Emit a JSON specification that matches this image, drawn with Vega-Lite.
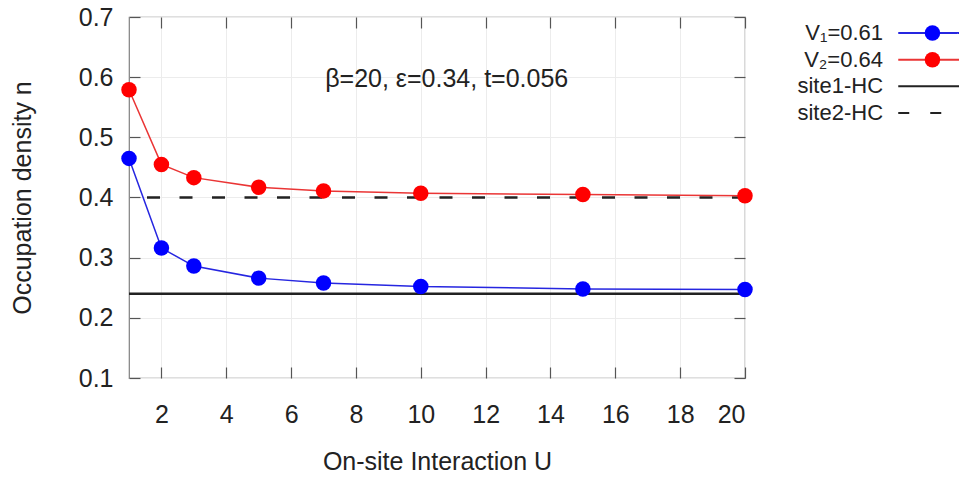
{
  "$schema": "https://vega.github.io/schema/vega-lite/v6.json",
  "padding": {"left": 9, "top": 4, "right": 0, "bottom": 0},
  "autosize": {"type": "pad"},
  "background": "white",
  "datasets": {
    "series": [
      {"series": "V1", "U": 1, "n": 0.465},
      {"series": "V1", "U": 2, "n": 0.316},
      {"series": "V1", "U": 3, "n": 0.286},
      {"series": "V1", "U": 5, "n": 0.266},
      {"series": "V1", "U": 7, "n": 0.258},
      {"series": "V1", "U": 10, "n": 0.252},
      {"series": "V1", "U": 15, "n": 0.248},
      {"series": "V1", "U": 20, "n": 0.247},
      {"series": "V2", "U": 1, "n": 0.579},
      {"series": "V2", "U": 2, "n": 0.455},
      {"series": "V2", "U": 3, "n": 0.433},
      {"series": "V2", "U": 5, "n": 0.417},
      {"series": "V2", "U": 7, "n": 0.411},
      {"series": "V2", "U": 10, "n": 0.407},
      {"series": "V2", "U": 15, "n": 0.405},
      {"series": "V2", "U": 20, "n": 0.403}
    ],
    "hc": [
      {"site": "site1-HC", "n": 0.24},
      {"site": "site2-HC", "n": 0.40}
    ],
    "legend": [
      {"label": "V₁=0.61", "kind": "V1", "row": 1},
      {"label": "V₂=0.64", "kind": "V2", "row": 2},
      {"label": "site1-HC", "kind": "site1", "row": 3},
      {"label": "site2-HC", "kind": "site2", "row": 4}
    ]
  },
  "spacing": 16,
  "resolve": {"scale": {"fill": "independent", "stroke": "independent", "strokeDash": "independent"}},
  "hconcat": [
    {
      "width": 616,
      "height": 361,
      "layer": [
        {
          "data": {"name": "hc"},
          "mark": {"type": "rule", "strokeWidth": 2.5, "color": "#222222"},
          "encoding": {
            "y": {"field": "n", "type": "quantitative", "scale": {"domain": [0.1, 0.7], "zero": false},
              "axis": {"orient": "right", "values": [0.1, 0.2, 0.3, 0.4, 0.5, 0.6, 0.7], "labels": false, "title": null, "grid": false}},
            "strokeDash": {"field": "site", "type": "nominal", "scale": {"domain": ["site1-HC", "site2-HC"], "range": [[1, 0], [13, 19.5]]}, "legend": null}
          }
        },
        {
          "data": {"name": "series"},
          "mark": {"type": "line", "strokeWidth": 1.5},
          "encoding": {
            "x": {"field": "U", "type": "quantitative", "scale": {"domain": [1, 20], "zero": false},
              "axis": {"orient": "bottom", "values": [2, 4, 6, 8, 10, 12, 14, 16, 18, 20], "title": "On-site Interaction U", "grid": true, "labelPadding": 35, "titlePadding": 22}},
            "y": {"field": "n", "type": "quantitative", "scale": {"domain": [0.1, 0.7], "zero": false},
              "axis": {"orient": "left", "values": [0.1, 0.2, 0.3, 0.4, 0.5, 0.6, 0.7], "format": ".1f", "title": "Occupation density n", "grid": true, "labelPadding": 27, "titlePadding": 43}},
            "stroke": {"field": "series", "type": "nominal", "scale": {"domain": ["V1", "V2"], "range": ["#2626e0", "#ea3535"]}, "legend": null}
          }
        },
        {
          "data": {"name": "series"},
          "mark": {"type": "point", "filled": true, "size": 240, "opacity": 1},
          "encoding": {
            "x": {"field": "U", "type": "quantitative", "scale": {"domain": [1, 20], "zero": false},
              "axis": {"orient": "top", "values": [2, 4, 6, 8, 10, 12, 14, 16, 18, 20], "labels": false, "title": null, "grid": false}},
            "y": {"field": "n", "type": "quantitative", "scale": {"domain": [0.1, 0.7], "zero": false}, "axis": null},
            "fill": {"field": "series", "type": "nominal", "scale": {"domain": ["V1", "V2"], "range": ["#0000ff", "#ff0000"]}, "legend": null}
          }
        },
        {
          "data": {"values": [{"note": "β=20, ε=0.34, t=0.056"}]},
          "mark": {"type": "text", "align": "center", "baseline": "middle", "fontSize": 25, "font": "Liberation Sans", "color": "#222222"},
          "encoding": {
            "x": {"datum": 10.8, "type": "quantitative", "scale": {"domain": [1, 20], "zero": false}, "axis": null},
            "y": {"datum": 0.597, "type": "quantitative", "scale": {"domain": [0.1, 0.7], "zero": false}, "axis": null},
            "text": {"field": "note"}
          }
        }
      ],
      "resolve": {"axis": {"x": "independent", "y": "independent"}}
    },
    {
      "width": 190,
      "height": 361,
      "view": {"stroke": null},
      "data": {"name": "legend"},
      "layer": [
        {
          "mark": {"type": "text", "align": "right", "baseline": "middle", "fontSize": 22, "font": "Liberation Sans", "color": "#222222"},
          "encoding": {
            "x": {"datum": 5.95, "type": "quantitative", "scale": {"domain": [0, 10]}, "axis": null},
            "y": {"field": "row", "type": "quantitative", "scale": {"domain": [0.4, 13.94], "reverse": true, "zero": false}, "axis": null},
            "text": {"field": "label"}
          }
        },
        {
          "mark": {"type": "rule", "strokeWidth": 2},
          "encoding": {
            "x": {"datum": 6.75, "type": "quantitative", "scale": {"domain": [0, 10]}, "axis": null},
            "x2": {"datum": 10},
            "y": {"field": "row", "type": "quantitative", "scale": {"domain": [0.4, 13.94], "reverse": true, "zero": false}, "axis": null},
            "stroke": {"field": "kind", "type": "nominal", "scale": {"domain": ["V1", "V2", "site1", "site2"], "range": ["#2626e0", "#ea3535", "#222222", "#222222"]}, "legend": null},
            "strokeDash": {"field": "kind", "type": "nominal", "scale": {"domain": ["V1", "V2", "site1", "site2"], "range": [[1, 0], [1, 0], [1, 0], [11, 21]]}, "legend": null}
          }
        },
        {
          "transform": [{"filter": "datum.kind === 'V1' || datum.kind === 'V2'"}],
          "mark": {"type": "point", "filled": true, "size": 240, "opacity": 1},
          "encoding": {
            "x": {"datum": 8.55, "type": "quantitative", "scale": {"domain": [0, 10]}, "axis": null},
            "y": {"field": "row", "type": "quantitative", "scale": {"domain": [0.4, 13.94], "reverse": true, "zero": false}, "axis": null},
            "fill": {"field": "kind", "type": "nominal", "scale": {"domain": ["V1", "V2"], "range": ["#0000ff", "#ff0000"]}, "legend": null}
          }
        }
      ]
    }
  ],
  "config": {
    "font": "Liberation Sans",
    "view": {"stroke": "#808080", "strokeWidth": 1.2},
    "axis": {
      "labelFont": "Liberation Sans",
      "labelFontSize": 25,
      "labelColor": "#222222",
      "titleFont": "Liberation Sans",
      "titleFontSize": 25,
      "titleFontWeight": "normal",
      "titleColor": "#222222",
      "tickColor": "#555555",
      "tickWidth": 1.2,
      "tickSize": -11,
      "domain": false,
      "gridColor": "#ececec",
      "gridWidth": 1
    }
  }
}
